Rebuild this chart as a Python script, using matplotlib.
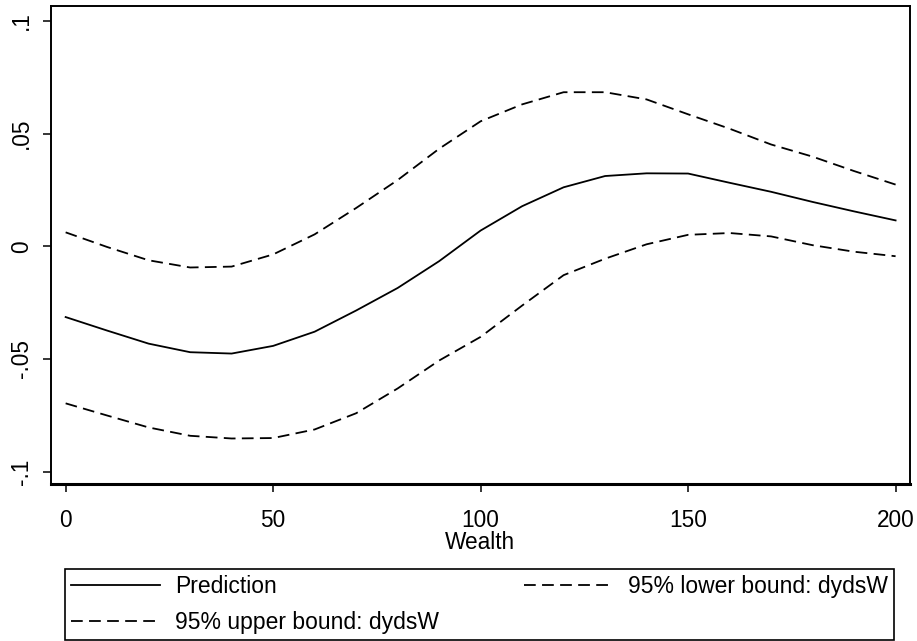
import numpy as np
import matplotlib.pyplot as plt

plt.rcParams['font.family'] = ['Liberation Sans', 'DejaVu Sans']

# значения (шаг 10 по Wealth)
wealth = [0, 10, 20, 30, 40, 50, 60, 70, 80, 90, 100,
          110, 120, 130, 140, 150, 160, 170, 180, 190, 200]
prediction = [-0.0314, -0.0374, -0.0432, -0.0470, -0.0476, -0.0442, -0.0379,
              -0.0285, -0.0185, -0.0066, 0.0070, 0.0178, 0.0262, 0.0312,
              0.0324, 0.0323, 0.0282, 0.0242, 0.0197, 0.0155, 0.0115]
upper = [0.0062, -0.0003, -0.0062, -0.0094, -0.0090, -0.0036, 0.0053,
         0.0170, 0.0294, 0.0433, 0.0555, 0.0630, 0.0684, 0.0684, 0.0652,
         0.0586, 0.0522, 0.0452, 0.0398, 0.0334, 0.0274]
lower = [-0.0697, -0.0751, -0.0804, -0.0841, -0.0853, -0.0851, -0.0813,
         -0.0741, -0.0631, -0.0507, -0.0402, -0.0263, -0.0128, -0.0055,
         0.0009, 0.0051, 0.0059, 0.0044, 0.0005, -0.0024, -0.0044]

xticks = [0, 50, 100, 150, 200]
yticks = [-0.1, -0.05, 0, 0.05, 0.1]
ytick_labels = ['-.1', '-.05', '0', '.05', '.1']

W, H = 917, 641
fig = plt.figure(figsize=(W / 100, H / 100), dpi=100)
ax = fig.add_axes([50.7 / W, 1 - 484 / H, (909.7 - 50.7) / W, (484 - 5.7) / H])

l1, = ax.plot(wealth, prediction, color='black', lw=1.3)
l2, = ax.plot(wealth, upper, color='black', lw=1.3, dashes=(6.5, 3.5))
l3, = ax.plot(wealth, lower, color='black', lw=1.3, dashes=(6.5, 3.5))

ax.set_xlim(-3.6, 203.4)
ax.set_ylim(-0.1055, 0.1068)
ax.set_xticks(xticks)
ax.set_xticklabels([str(t) for t in xticks])
ax.set_yticks(yticks)
ax.set_yticklabels(ytick_labels)

ax.tick_params(axis='both', direction='out', length=6, width=1.1,
               labelsize=16.3, colors='black')
ax.tick_params(axis='x', pad=12)
ax.tick_params(axis='y', pad=7, labelrotation=90)
for lab in ax.get_yticklabels():
    lab.set_va('center')

for side in ['left', 'top', 'right']:
    ax.spines[side].set_linewidth(1.4)
ax.spines['bottom'].set_linewidth(2.2)

ax.set_xlabel('Wealth', fontsize=16.3, labelpad=-1)

leg = fig.legend([l1, l2, l3],
                 ['Prediction', '95% upper bound: dydsW', '95% lower bound: dydsW'],
                 ncol=2, loc='lower left', mode='expand',
                 bbox_to_anchor=(65 / W, 1 / H, (894 - 65) / W, (640 - 565) / H),
                 borderaxespad=0, fontsize=16.5, handlelength=3.9,
                 handletextpad=0.65, labelspacing=0.6, borderpad=0.25,
                 fancybox=False, framealpha=1, edgecolor='black')
leg.get_frame().set_linewidth(1.2)

fig.savefig('out.png', dpi=100)
